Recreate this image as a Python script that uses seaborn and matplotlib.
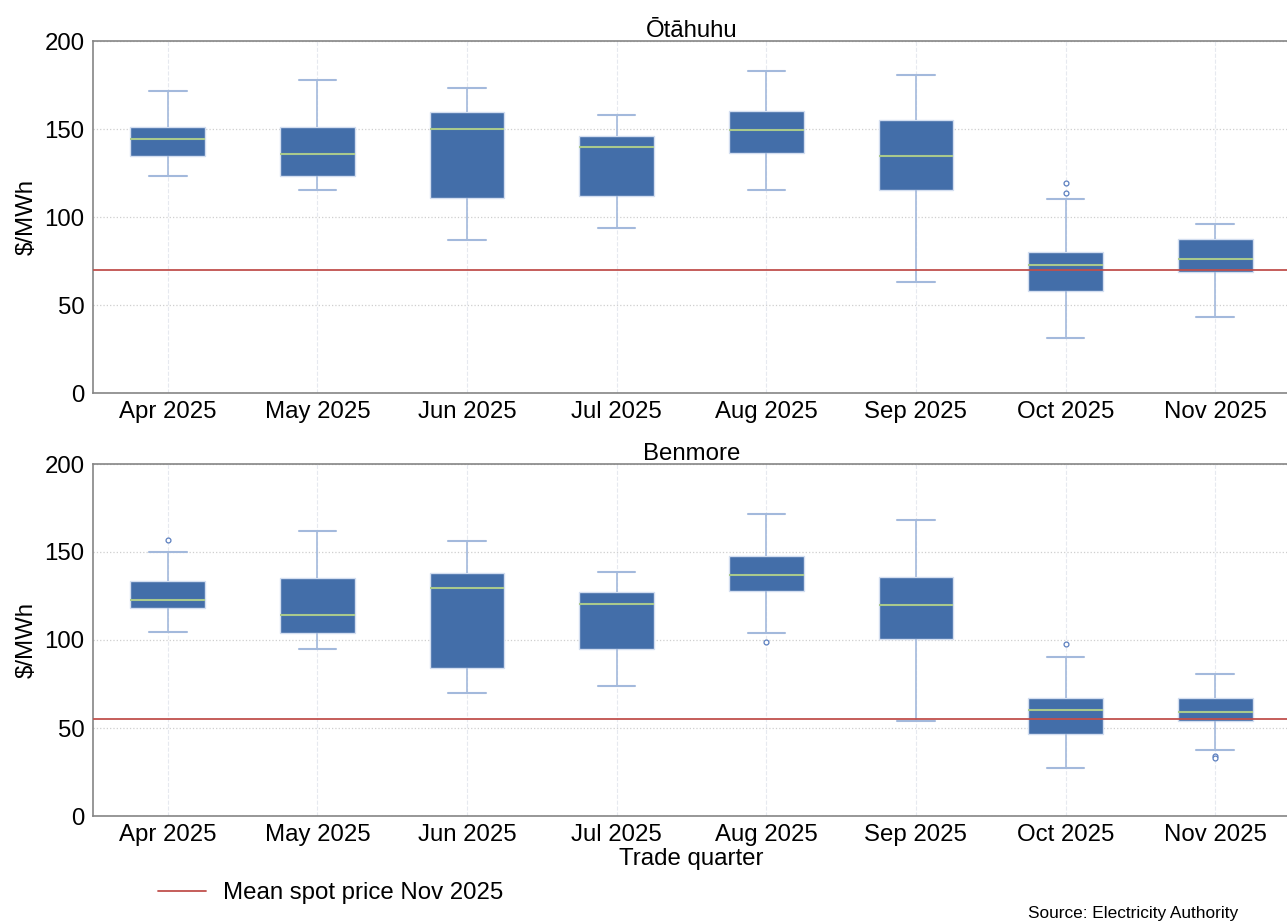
import matplotlib
matplotlib.use('Agg')
import matplotlib.pyplot as plt
import seaborn as sns
import pandas as pd

months = ['Apr 2025', 'May 2025', 'Jun 2025', 'Jul 2025',
          'Aug 2025', 'Sep 2025', 'Oct 2025', 'Nov 2025']

# Otahuhu five-number summaries ($/MWh)
ota_low = [123.5, 115.5, 87.1, 93.9, 115.5, 62.9, 31.5, 43.2]
ota_q1 = [134.5, 123.3, 110.6, 111.9, 136.5, 115.5, 58.0, 68.8]
ota_med = [144.5, 135.6, 150.2, 139.6, 149.6, 134.8, 72.9, 76.3]
ota_q3 = [151.0, 151.3, 159.7, 146.2, 160.0, 154.9, 80.1, 87.5]
ota_high = [171.6, 178.0, 173.1, 158.1, 182.8, 180.7, 110.4, 96.0]
ota_out_month = ['Oct 2025', 'Oct 2025']
ota_out_value = [113.6, 119.1]
ota_mean_nov = 70.1

# Benmore
ben_low = [104.4, 95.1, 69.7, 73.7, 104.0, 54.0, 27.1, 37.5]
ben_q1 = [118.2, 104.0, 83.9, 94.9, 128.0, 100.6, 46.6, 54.1]
ben_med = [122.9, 114.2, 129.7, 120.6, 137.1, 119.7, 60.2, 59.3]
ben_q3 = [133.3, 135.4, 137.9, 127.1, 147.7, 135.6, 67.2, 67.2]
ben_high = [149.8, 161.9, 156.4, 138.8, 171.6, 168.0, 90.3, 80.5]
ben_out_month = ['Apr 2025', 'Aug 2025', 'Oct 2025', 'Nov 2025', 'Nov 2025']
ben_out_value = [156.6, 98.7, 97.9, 34.0, 33.1]
ben_mean_nov = 54.9

BOX = '#436ea9'
EDGE = '#d3def0'
WHISK = '#a3b9dc'
MED = '#a9c98c'
RED = '#c0504d'
SPINE = '#858585'
FS = 17.3


def summary_frame(low, q1, med, q3, high):
    # five points per month -> percentiles land exactly on the summary values
    rows = []
    for i, m in enumerate(months):
        for v in (low[i], q1[i], med[i], q3[i], high[i]):
            rows.append({'month': m, 'value': v})
    return pd.DataFrame(rows)


def draw_panel(ax, df, out_df, mean_val, title):
    sns.boxplot(data=df, x='month', y='value', order=months, ax=ax,
                whis=(0, 100), width=0.5, saturation=1, fliersize=0,
                boxprops=dict(facecolor=BOX, edgecolor=EDGE, linewidth=1.0),
                medianprops=dict(color=MED, linewidth=1.5),
                whiskerprops=dict(color=WHISK, linewidth=1.2),
                capprops=dict(color=WHISK, linewidth=1.5))
    sns.stripplot(data=out_df, x='month', y='value', order=months, ax=ax,
                  jitter=False, size=3.5, color='white', edgecolor='#5b7fbf',
                  linewidth=0.9, zorder=3)
    ax.axhline(mean_val, color=RED, linewidth=1.3, zorder=4,
               label='Mean spot price Nov 2025')
    ax.set_xlim(-0.5, 7.5)
    ax.set_ylim(0, 200)
    ax.set_yticks([0, 50, 100, 150, 200])
    ax.set_title(title, fontsize=FS, pad=3, color='black')
    ax.set_ylabel('$/MWh', fontsize=FS, labelpad=5, color='black')
    ax.set_xlabel('')
    ax.yaxis.grid(True, color='#cfcfcf', linestyle=':', linewidth=0.9)
    ax.xaxis.grid(True, color='#e6e9ef', linestyle='--', linewidth=0.8)
    ax.set_axisbelow(True)
    for s in ['left', 'top', 'bottom']:
        ax.spines[s].set_color(SPINE)
        ax.spines[s].set_linewidth(1.2)
    ax.spines['right'].set_visible(False)
    ax.tick_params(axis='both', labelsize=FS, length=3, color=SPINE,
                   labelcolor='black', pad=3)


sns.set_style('white')
plt.rcParams['font.family'] = ['Liberation Sans', 'DejaVu Sans']
plt.rcParams['text.color'] = 'black'

fig = plt.figure(figsize=(12.87, 9.22), dpi=100)
W, H = 1287, 922
ax1 = fig.add_axes([93 / W, (H - 393) / H, (1290 - 93) / W, 352 / H])
ax2 = fig.add_axes([93 / W, (H - 816) / H, (1290 - 93) / W, 352 / H])

ota = summary_frame(ota_low, ota_q1, ota_med, ota_q3, ota_high)
ben = summary_frame(ben_low, ben_q1, ben_med, ben_q3, ben_high)
ota_out = pd.DataFrame({'month': ota_out_month, 'value': ota_out_value})
ben_out = pd.DataFrame({'month': ben_out_month, 'value': ben_out_value})

draw_panel(ax1, ota, ota_out, ota_mean_nov, 'Ōtāhuhu')
draw_panel(ax2, ben, ben_out, ben_mean_nov, 'Benmore')
ax2.set_xlabel('Trade quarter', fontsize=FS, labelpad=1, color='black')

handles, labels = ax2.get_legend_handles_labels()
fig.legend(handles[-1:], labels[-1:], loc='center left',
           bbox_to_anchor=(158 / W, 1 - 893 / H), frameon=False,
           fontsize=FS, handlelength=2.0, handletextpad=0.7,
           borderpad=0, borderaxespad=0)

fig.text(1238 / W, 1 - 913 / H, 'Source: Electricity Authority',
         ha='right', va='center', fontsize=12.4, color='black')

fig.savefig('out.png', dpi=100)
